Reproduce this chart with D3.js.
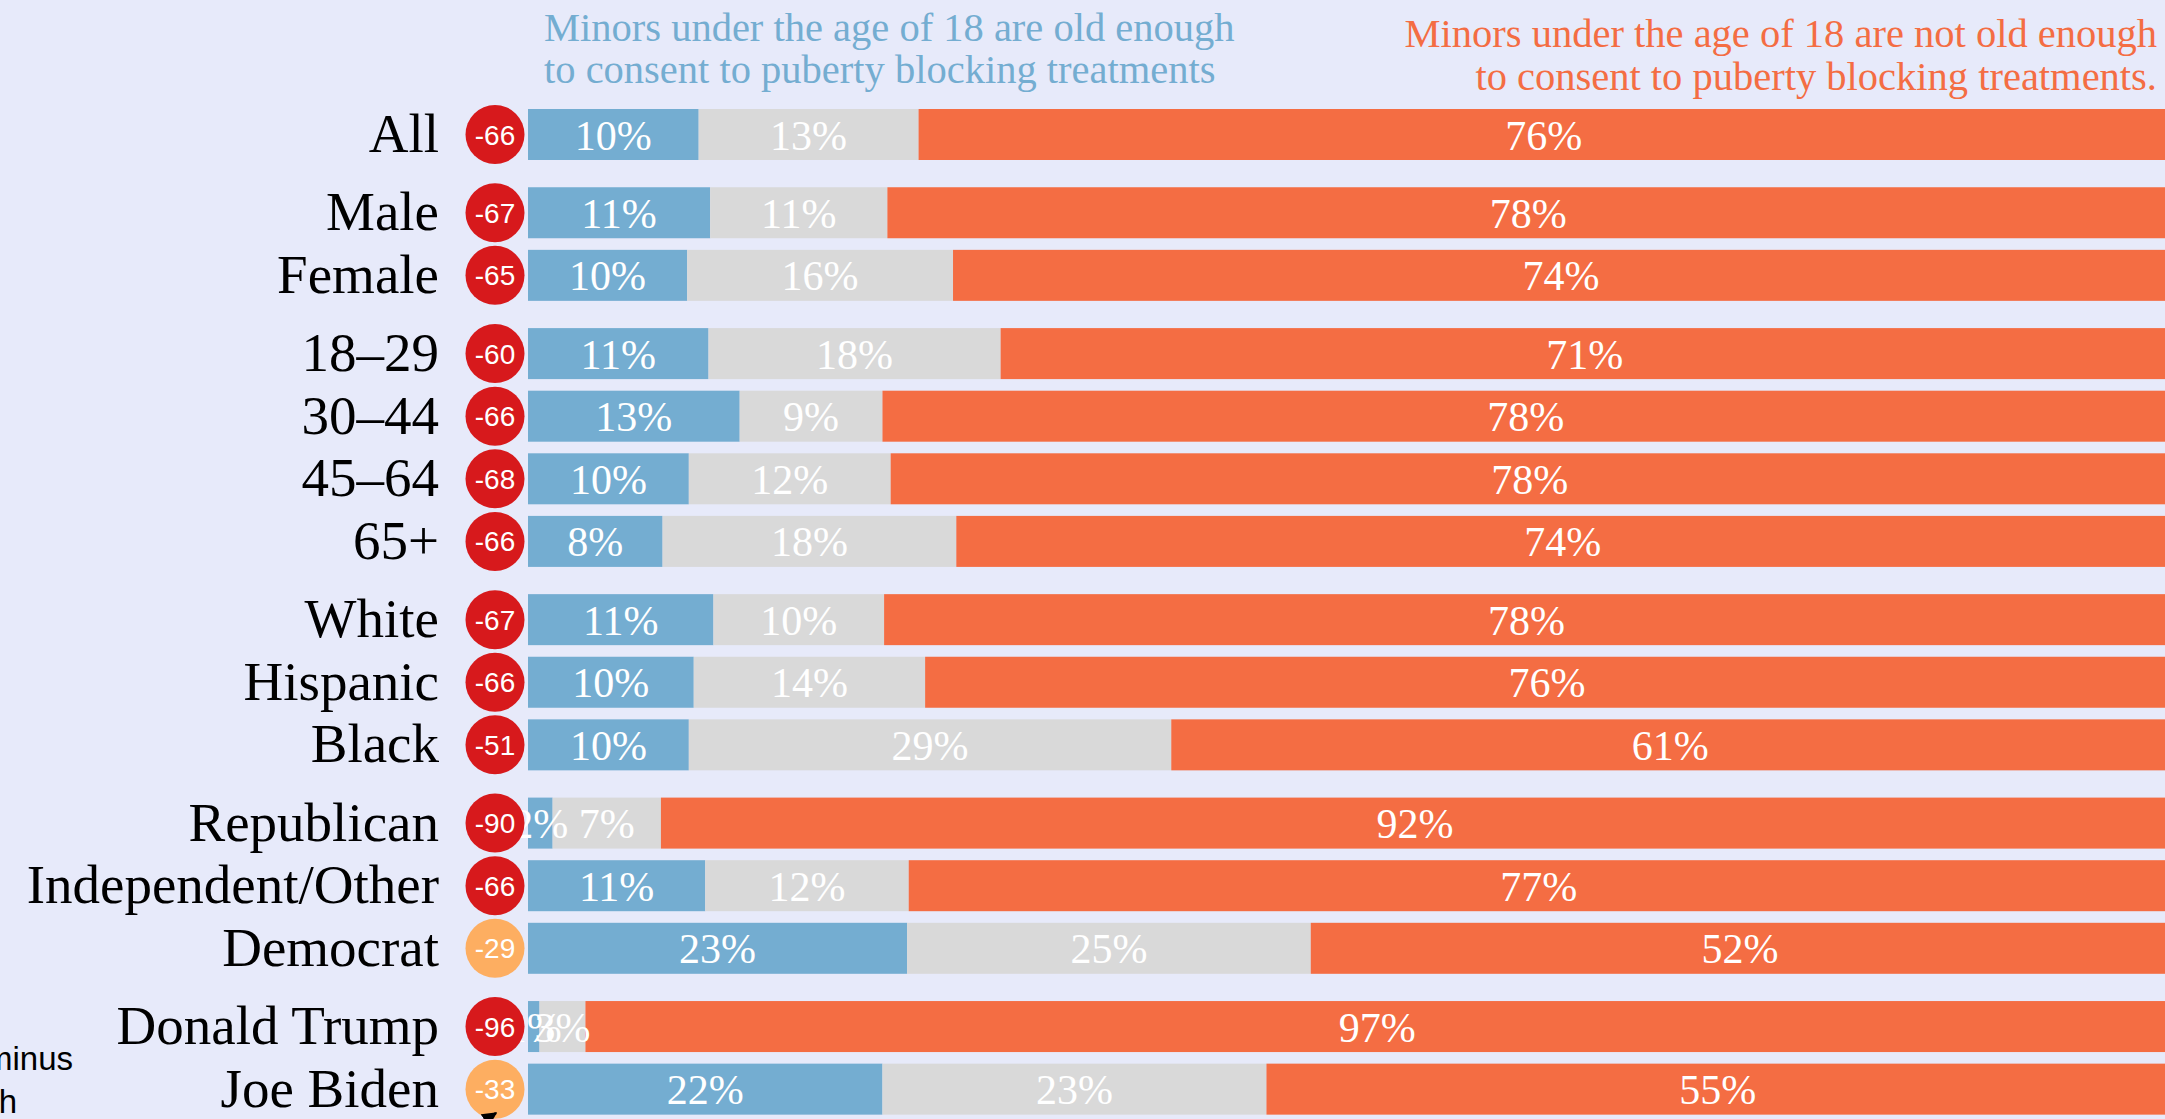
<!DOCTYPE html>
<html>
<head>
<meta charset="utf-8">
<script src="https://cdn.jsdelivr.net/npm/d3@7"></script>
<style>
    body { margin: 0; background: #e7eafa; overflow: hidden; }
    svg { display: block; }
</style>
</head>
<body>
<script>
//row labels and which block each row sits in
var categories = ['All', 'Male', 'Female', '18–29', '30–44', '45–64', '65+',
    'White', 'Hispanic', 'Black', 'Republican', 'Independent/Other', 'Democrat',
    'Donald Trump', 'Joe Biden'];
var groups = [0, 1, 1, 2, 2, 2, 2, 3, 3, 3, 4, 4, 4, 5, 5];

//shares (percent)
var oldEnough = [10.4, 11.1, 9.7, 11.0, 12.9, 9.8, 8.2, 11.3, 10.1, 9.8, 1.5, 10.8, 23.1, 0.7, 21.6];
var notSure = [13.4, 10.8, 16.2, 17.8, 8.7, 12.3, 17.9, 10.4, 14.1, 29.4, 6.6, 12.4, 24.6, 2.8, 23.4];
var notOldEnough = [76.2, 78.1, 74.1, 71.2, 78.4, 77.9, 73.9, 78.3, 75.8, 60.8, 91.9, 76.8, 52.3, 96.5, 55.0];

//net score shown in the badges
var netScores = [-66, -67, -65, -60, -66, -68, -66, -67, -66, -51, -90, -66, -29, -96, -33];

var keys = ['oldEnough', 'notSure', 'notOldEnough'];
var colors = ['#74add1', '#d9d9d9', '#f46d43'];

var width = 2165, height = 1119;

function buildTable() {
    return categories.map((c, i) => {
        return {
            name: c,
            slot: i + groups[i] * 0.25,
            oldEnough: oldEnough[i],
            notSure: notSure[i],
            notOldEnough: notOldEnough[i],
            net: netScores[i]
        };
    });
}

function drawChart(table) {
    var svg = d3.select('body').append('svg')
        .attr('width', width)
        .attr('height', height);

    var x = d3.scaleLinear().domain([0, 100]).range([528, 2169]);
    //one slot = one row, blocks are pushed apart by a quarter slot
    var y = d3.scaleLinear().domain([0, 1]).range([109, 171.6]);
    var barH = 51;
    var color = d3.scaleOrdinal().domain(keys).range(colors);

    var series = d3.stack().keys(keys)(table);

    var layers = svg.selectAll('g.layer')
        .data(series)
        .enter()
        .append('g')
        .attr('class', 'layer')
        .attr('fill', (d) => color(d.key));

    layers.selectAll('rect')
        .data((d) => d)
        .enter()
        .append('rect')
        .attr('x', (d) => x(d[0]))
        .attr('y', (d) => y(d.data.slot))
        .attr('width', (d) => x(d[1]) - x(d[0]))
        .attr('height', barH);

    //percent labels in the middle of each piece
    var labels = svg.append('g')
        .attr('font-family', '"Liberation Serif", serif')
        .attr('font-size', 42)
        .attr('fill', '#fff')
        .attr('text-anchor', 'middle');

    series.forEach((s) => {
        labels.selectAll(null)
            .data(s)
            .enter()
            .append('text')
            .attr('x', (d) => (x(d[0]) + x(d[1])) / 2)
            .attr('y', (d) => y(d.data.slot) + barH / 2 + 15)
            .text((d) => Math.round(d[1] - d[0]) + '%');
    });

    //row names
    svg.append('g')
        .selectAll('text')
        .data(table)
        .enter()
        .append('text')
        .attr('x', 439)
        .attr('y', (d) => y(d.slot) + barH / 2 + 17.5)
        .attr('text-anchor', 'end')
        .attr('font-family', '"Liberation Serif", serif')
        .attr('font-size', 55)
        .attr('fill', '#000')
        .text((d) => d.name);

    //net badges, drawn over the labels
    var badges = svg.append('g')
        .selectAll('g')
        .data(table)
        .enter()
        .append('g')
        .attr('transform', (d) => 'translate(495,' + (y(d.slot) + barH / 2) + ')');

    badges.append('circle')
        .attr('r', 29.5)
        .attr('fill', (d) => d.net <= -40 ? '#d7191c' : '#fdae61');

    badges.append('text')
        .attr('y', 10)
        .attr('text-anchor', 'middle')
        .attr('font-family', '"Liberation Sans", Arial, sans-serif')
        .attr('font-size', 28)
        .attr('fill', '#fff')
        .text((d) => d.net);

    drawLegend(svg);
}

function drawLegend(svg) {
    var blue = svg.append('text')
        .attr('font-family', '"Liberation Serif", serif')
        .attr('font-size', 40.5)
        .attr('fill', '#74add1');
    blue.append('tspan').attr('x', 544).attr('y', 41)
        .text('Minors under the age of 18 are old enough');
    blue.append('tspan').attr('x', 544).attr('y', 83)
        .text('to consent to puberty blocking treatments');

    var orange = svg.append('text')
        .attr('font-family', '"Liberation Serif", serif')
        .attr('font-size', 40.5)
        .attr('fill', '#f46d43')
        .attr('text-anchor', 'end');
    orange.append('tspan').attr('x', 2157).attr('y', 47)
        .text('Minors under the age of 18 are not old enough');
    orange.append('tspan').attr('x', 2157).attr('y', 90)
        .text('to consent to puberty blocking treatments.');

    //note that hangs off the left edge
    var note = svg.append('text')
        .attr('font-family', '"Liberation Sans", Arial, sans-serif')
        .attr('font-size', 33)
        .attr('fill', '#000')
        .attr('text-anchor', 'end');
    note.append('tspan').attr('x', 73).attr('y', 1070).text('Net: old enough minus');
    note.append('tspan').attr('x', 17).attr('y', 1113).text('not old enough');

    svg.append('defs').append('marker')
        .attr('id', 'arrow')
        .attr('viewBox', '0 0 10 10')
        .attr('refX', 9).attr('refY', 5)
        .attr('markerWidth', 6).attr('markerHeight', 6)
        .attr('orient', 'auto')
        .append('path')
        .attr('d', 'M0,0L10,5L0,10z')
        .attr('fill', '#000');

    svg.append('path')
        .attr('d', 'M440,1150L496,1113')
        .attr('stroke', '#000')
        .attr('stroke-width', 2.5)
        .attr('marker-end', 'url(#arrow)');
}

window.onload = function () {
    drawChart(buildTable());
};
</script>
</body>
</html>
